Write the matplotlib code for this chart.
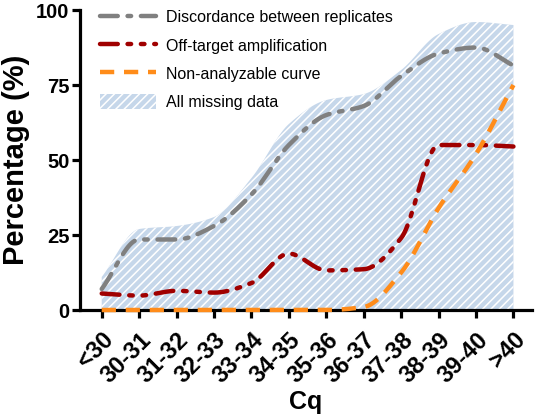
import numpy as np
import matplotlib
matplotlib.use("Agg")
import matplotlib.pyplot as plt

categories = ["<30", "30-31", "31-32", "32-33", "33-34", "34-35", "35-36",
              "36-37", "37-38", "38-39", "39-40", ">40"]
all_missing = [11, 27, 28, 31, 44, 62, 70, 72, 80, 92, 96, 95]
discordance = [7, 23.5, 23.5, 28, 38.5, 55, 65, 68, 78, 85.5, 87.5, 81.5]
off_target = [5.5, 4.8, 6.4, 5.8, 9, 18.8, 13.2, 13.6, 24, 55, 55, 54.5]
non_analyzable = [0, 0, 0, 0, 0, 0, 0, 1, 12.5, 34, 52, 75]

plt.rcParams['font.family'] = ['Liberation Sans', 'DejaVu Sans']
plt.rcParams['hatch.linewidth'] = 1.1


def smooth(y, n=24):
    """Monotone cubic (Fritsch-Carlson) curve through the points, for drawing."""
    y = np.asarray(y, float)
    x = np.arange(len(y), dtype=float)
    d = np.diff(y)
    m = np.zeros_like(y)
    m[0], m[-1] = d[0], d[-1]
    for i in range(1, len(y) - 1):
        if d[i - 1] * d[i] <= 0:
            m[i] = 0.0
        else:
            m[i] = 2.0 / (1.0 / d[i - 1] + 1.0 / d[i])
    xs, ys = [], []
    for i in range(len(y) - 1):
        t = np.linspace(0, 1, n, endpoint=False)
        h00 = 2 * t ** 3 - 3 * t ** 2 + 1
        h10 = t ** 3 - 2 * t ** 2 + t
        h01 = -2 * t ** 3 + 3 * t ** 2
        h11 = t ** 3 - t ** 2
        ys.append(h00 * y[i] + h10 * m[i] + h01 * y[i + 1] + h11 * m[i + 1])
        xs.append(x[i] + t)
    xs.append([x[-1]])
    ys.append([y[-1]])
    return np.concatenate(xs), np.concatenate(ys)


fig = plt.figure(figsize=(5.37, 4.16), dpi=100)
ax = fig.add_axes([0.149, 0.2548, 0.842, 0.7211])

x = np.arange(len(categories))
xf, yf = smooth(all_missing)
ax.fill_between(xf, 0, yf, facecolor='#c6d7ea', edgecolor='white', hatch='////',
                linewidth=0, label='All missing data', zorder=1)

xs, ys = smooth(discordance)
ax.plot(xs, ys, color='#808080', lw=3.2, dashes=[4, 2.2, 0.8, 2.2],
        dash_capstyle='round', label='Discordance between replicates', zorder=3)
xs, ys = smooth(off_target)
ax.plot(xs, ys, color='#a00000', lw=3.2, dashes=[4, 2.2, 0.8, 2.2, 0.8, 2.2],
        dash_capstyle='round', label='Off-target amplification', zorder=3)
xs, ys = smooth(non_analyzable)
ys = np.clip(ys, 0, None)
ax.plot(xs, ys, color='#ff8c1a', lw=3.2, dashes=[3.2, 2.2],
        dash_capstyle='butt', label='Non-analyzable curve', zorder=4, clip_on=False)

ax.set_xlim(-0.58, 11.5)
ax.set_ylim(0, 100)
ax.set_yticks([0, 25, 50, 75, 100])
ax.set_xticks(x)
ax.set_xticklabels(categories, rotation=45, ha='right', rotation_mode='anchor',
                   fontsize=17, fontweight='bold')
for lab in ax.get_yticklabels():
    lab.set_fontsize(14.5)
    lab.set_fontweight('bold')

for s in ['top', 'right']:
    ax.spines[s].set_visible(False)
for s in ['left', 'bottom']:
    ax.spines[s].set_linewidth(2.3)
ax.tick_params(axis='both', width=2.3, length=6, direction='out')
ax.tick_params(axis='y', pad=1.5)
ax.tick_params(axis='x', pad=7)

ax.set_ylabel('Percentage (%)', fontsize=21, fontweight='bold')
ax.yaxis.set_label_coords(-0.11, 0.5)
ax.set_xlabel('Cq', fontsize=18, fontweight='bold', labelpad=2)

h, l = ax.get_legend_handles_labels()
order = [1, 2, 3, 0]
ax.legend([h[i] for i in order], [l[i] for i in order], loc='upper left',
          bbox_to_anchor=(0.013, 1.05), frameon=False, fontsize=11.5,
          handlelength=3.5, handleheight=1.1, handletextpad=0.6,
          labelspacing=0.76)

fig.savefig('out.png', dpi=100)
